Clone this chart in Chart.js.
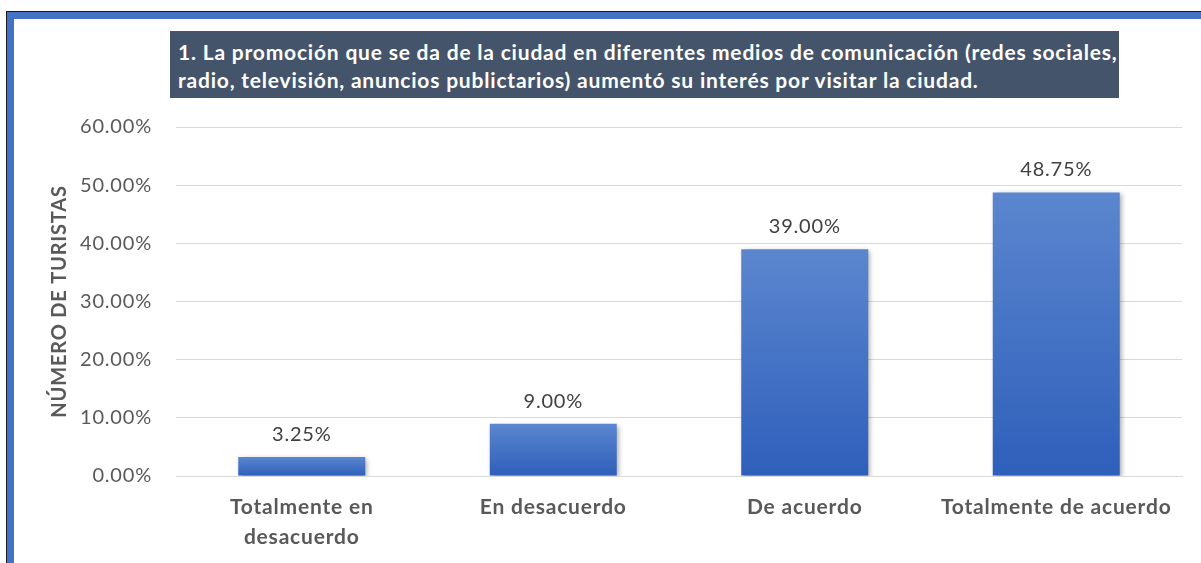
<!DOCTYPE html>
<html>
<head>
<meta charset="utf-8">
<script src="https://cdn.jsdelivr.net/npm/chart.js@4"></script>
<style>
  html, body { margin: 0; padding: 0; background: #fff; }
  body { width: 1201px; height: 563px; position: relative; overflow: hidden; }
  #marco { position: absolute; left: 6px; top: 11px; right: -20px; bottom: -20px;
           border-left: 1px solid #1b1b1b; border-top: 1px solid #1b1b1b; }
  #marco div { position: absolute; left: 0; top: 0; right: 0; bottom: 0;
               border-left: 7px solid #4472C4; border-top: 7px solid #4472C4; }
  #titulo { position: absolute; left: 170px; top: 31px; width: 949px; height: 67px;
            padding-left: 8px; background: #44546A; color: #fff;
            font: bold 21px Lato, sans-serif; letter-spacing: 0.8px; line-height: 28px; padding-top: 7px;
            box-sizing: border-box; white-space: nowrap; overflow: hidden; }
  canvas { position: absolute; left: 0; top: 0; }
</style>
</head>
<body>
<div id="marco"><div></div></div>
<div id="titulo">1. La promoción que se da de la ciudad en diferentes medios de comunicación (redes sociales,<br>radio, televisión, anuncios publictarios) aumentó su interés por visitar la ciudad.</div>
<canvas id="grafico" width="1201" height="563"></canvas>
<script>
// datos del gráfico
const categorias = [['Totalmente en', 'desacuerdo'], 'En desacuerdo', 'De acuerdo', 'Totalmente de acuerdo'];
const porcentajes = [3.25, 9.00, 39.00, 48.75];
const ejeMin = 0;
const ejeMax = 60;
const ejePaso = 10;

// degradado por barra (más claro arriba)
function colorBarra(context) {
    const chart = context.chart;
    const y = chart.scales.y;
    if (!chart.chartArea || !y) return '#4472C4';
    const tope = y.getPixelForValue(context.raw);
    const base = y.getPixelForValue(0);
    const grad = chart.ctx.createLinearGradient(0, tope, 0, base);
    grad.addColorStop(0, '#5b86cf');
    grad.addColorStop(1, '#2e5fba');
    return grad;
}

// espaciado de letras parecido a Calibri
const espaciadoPlugin = {
    id: 'espaciado',
    beforeUpdate(chart) { chart.ctx.letterSpacing = '0.8px'; },
    beforeDraw(chart) { chart.ctx.letterSpacing = '0.8px'; }
};

// sombra de barras y etiquetas de valor
const etiquetasPlugin = {
    id: 'etiquetas',
    beforeDatasetsDraw(chart) {
        const ctx = chart.ctx;
        ctx.save();
        ctx.shadowColor = 'rgba(0, 0, 0, 0.35)';
        ctx.shadowBlur = 5;
        ctx.shadowOffsetX = 2;
        ctx.shadowOffsetY = 2;
    },
    afterDatasetsDraw(chart) {
        const ctx = chart.ctx;
        ctx.restore();
        const meta = chart.getDatasetMeta(0);
        ctx.save();
        ctx.fillStyle = '#404040';
        ctx.font = '20px Lato, sans-serif';
        ctx.textAlign = 'center';
        ctx.textBaseline = 'alphabetic';
        meta.data.forEach((bar, i) => {
            ctx.fillText(porcentajes[i].toFixed(2) + '%', bar.x, bar.y - 16);
        });
        ctx.restore();
    }
};

const ctx = document.getElementById('grafico').getContext('2d');
new Chart(ctx, {
    type: 'bar',
    data: {
        labels: categorias,
        datasets: [{
            data: porcentajes,
            backgroundColor: colorBarra,
            borderWidth: 0,
            categoryPercentage: 1,
            barPercentage: 0.505
        }]
    },
    options: {
        responsive: false,
        animation: false,
        layout: { padding: { top: 127, right: 19, bottom: 0, left: 45 } },
        plugins: {
            legend: { display: false },
            tooltip: { enabled: false }
        },
        scales: {
            x: {
                grid: { display: false, drawTicks: false },
                border: { color: '#d9d9d9', width: 1 },
                ticks: {
                    color: '#595959',
                    font: { family: 'Lato', size: 21, weight: 'bold', lineHeight: 1.4 },
                    padding: 17,
                    maxRotation: 0,
                    autoSkip: false
                },
                afterFit(scale) { scale.height = 87; }
            },
            y: {
                min: ejeMin,
                max: ejeMax,
                grid: { color: '#d9d9d9', lineWidth: 1, drawTicks: false },
                border: { display: false },
                ticks: {
                    stepSize: ejePaso,
                    color: '#595959',
                    font: { family: 'Lato', size: 20 },
                    padding: 24,
                    callback: v => v.toFixed(2) + '%'
                },
                title: {
                    display: true,
                    text: 'NÚMERO DE TURISTAS',
                    color: '#595959',
                    font: { family: 'Lato', size: 20, weight: 'bold' },
                    padding: { top: 3, bottom: 4 }
                },
                afterFit(scale) { scale.width = 131; }
            }
        }
    },
    plugins: [espaciadoPlugin, etiquetasPlugin]
});
</script>
</body>
</html>
